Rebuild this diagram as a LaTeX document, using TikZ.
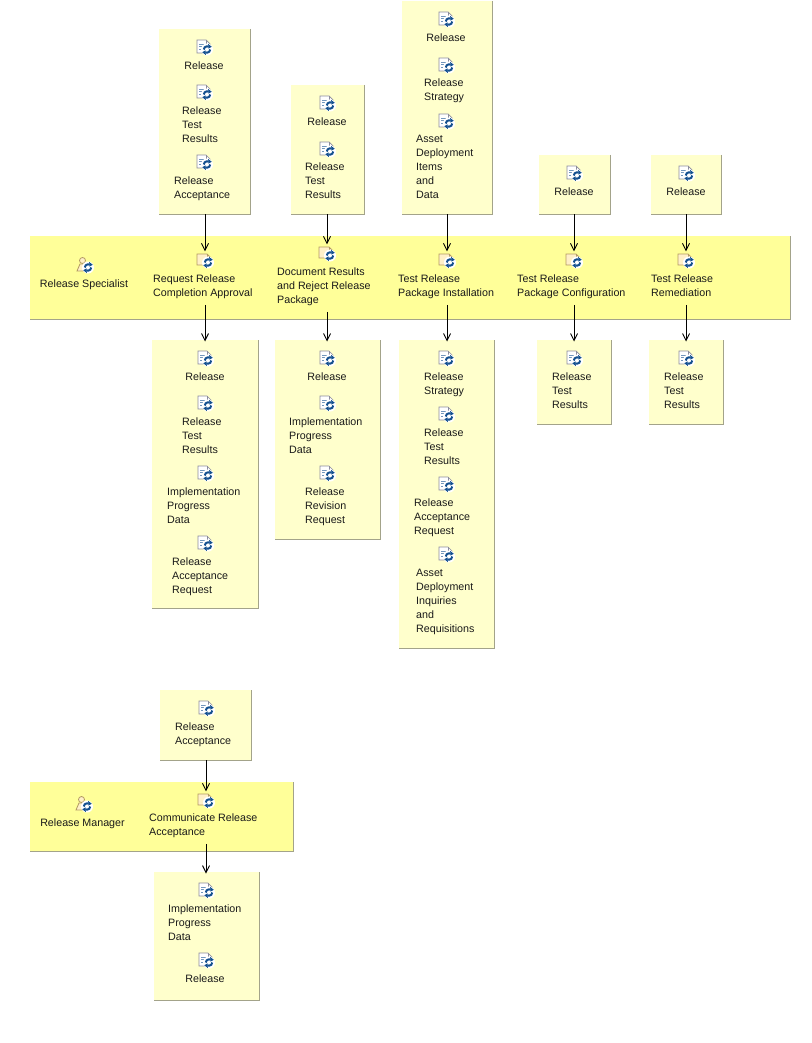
\documentclass[tikz,border=0pt]{standalone}
\usepackage{fontspec}
\setmainfont{Liberation Sans}
\usetikzlibrary{arrows.meta}
\definecolor{artfill}{HTML}{FFFFCC}
\definecolor{bandfill}{HTML}{FFFF99}
\definecolor{edgecol}{HTML}{A3A38A}
\definecolor{inkcol}{HTML}{1A1A1A}
\definecolor{arrowblue}{HTML}{14508F}
\definecolor{pagecol}{HTML}{8C8C9C}
\definecolor{taskpage}{HTML}{FFF0C8}
\definecolor{taskedge}{HTML}{B39A62}
\newcommand{\bluearrows}{%
  \fill[white] (3,-2.5) circle (6pt);
  \draw[arrowblue,line width=2pt] (-0.2,-2.5) arc (180:60:3.2);
  \draw[arrowblue,line width=2pt] (6.2,-2.5) arc (0:-120:3.2);
  \fill[arrowblue] (4.2,3) -- (4.4,-1.6) -- (7.8,0.2) -- cycle;
  \fill[arrowblue] (1.8,-8) -- (1.6,-3.4) -- (-1.8,-5.2) -- cycle;
}
\tikzset{
  x=1pt,y=1pt,
  artbox/.style={fill=artfill,draw=none,inner sep=0,minimum width=#1},
  band/.style={fill=bandfill,draw=none,inner sep=0},
  txt/.style={anchor=north west,inner sep=0,outer ysep=4pt,align=left,text=inkcol,
    font=\fontsize{10.7}{14}\selectfont,
    execute at begin node=\strut,execute at end node=\strut},
  ctxt/.style={txt,anchor=north,align=center},
  rim/.style={draw=edgecol,line width=0.9pt},
  flow/.style={draw=black,line width=0.9pt,shorten >=-1.5pt,-{Straight Barb[length=7pt,width=7pt,line width=0.9pt]}},
  docicon/.style={inner sep=0,minimum width=20pt,minimum height=20pt,path picture={
    \begin{scope}[shift={(path picture bounding box.center)}]
      \filldraw[fill=white,draw=pagecol,line width=0.7pt] (-7,7) -- (2,7) -- (6,3) -- (6,-6) -- (-7,-6) -- cycle;
      \draw[pagecol,line width=0.7pt] (2,7) -- (2,3) -- (6,3);
      \draw[arrowblue!60,line width=0.6pt] (-5,3) -- (0,3) (-5,0.5) -- (0,0.5) (-5,-2) -- (-2,-2);
      \bluearrows
    \end{scope}}},
  taskicon/.style={inner sep=0,minimum width=20pt,minimum height=20pt,path picture={
    \begin{scope}[shift={(path picture bounding box.center)}]
      \filldraw[fill=taskpage,draw=taskedge,line width=0.8pt] (-8,6) -- (2,6) -- (6,2) -- (6,-5) -- (-8,-5) -- cycle;
      \draw[taskedge,line width=0.7pt] (2,6) -- (2,2) -- (6,2);
      \bluearrows
    \end{scope}}},
  roleicon/.style={inner sep=0,minimum width=20pt,minimum height=20pt,path picture={
    \begin{scope}[shift={(path picture bounding box.center)}]
      \filldraw[fill=taskpage,draw=taskedge,line width=0.8pt] (-2.5,4.5) circle (3pt);
      \filldraw[fill=taskpage,draw=taskedge,line width=0.8pt] (-8,-6) -- (-5,1) -- (0,1) -- (2,-6) -- cycle;
      \bluearrows
    \end{scope}}},
}
% \abox{name}{x0}{y0}{x1}{y1}
\newcommand{\abox}[6][artbox=1pt]{%
  \node[#1,anchor=north west,minimum width={#5-#3},minimum height={#6-#4}] (#2) at (#3,-#4) {};
  \draw[rim] (#2.north east) -- (#2.south east) -- (#2.south west);
}
\newcommand{\lbl}[4]{\node[txt] (#1) at (#2,{-(#3-7)}) {#4};}
\newcommand{\clbl}[4]{\node[ctxt] (#1) at (#2,{-(#3-9)}) {#4};}
\begin{document}
\begin{tikzpicture}
\useasboundingbox[fill=white] (0,0) rectangle (811,-1043);
% top artifact boxes
\abox{ta}{159}{29}{250}{214}
\abox{tb}{291}{85}{364}{214}
\abox{tc}{402}{1}{492}{214}
\abox{td}{539}{155}{610}{214}
\abox{te}{651}{155}{721}{214}
% band
\abox[band]{rs}{30}{236}{790}{319}
% bottom boxes
\abox{ba}{152}{340}{258}{608}
\abox{bb}{275}{340}{380}{539}
\abox{bc}{399}{340}{494}{648}
\abox{bd}{537}{340}{611}{424}
\abox{be}{649}{340}{723}{424}
% lower
\abox{la}{160}{690}{251}{760}
\abox[band]{rm}{30}{782}{293}{851}
\abox{lb}{154}{872}{259}{1000}

% top box A
\node[docicon] (ta1) at (204,-47) {}; \clbl{tat1}{204}{65}{Release}
\node[docicon] (ta2) at (204,-92) {}; \lbl{tat2}{182}{110}{Release\\Test\\Results}
\node[docicon] (ta3) at (204,-162) {}; \lbl{tat3}{174}{180}{Release\\Acceptance}
% top box B
\node[docicon] (tb1) at (327,-103) {}; \clbl{tbt1}{327}{121}{Release}
\node[docicon] (tb2) at (327,-149) {}; \lbl{tbt2}{305}{166}{Release\\Test\\Results}
% top box C
\node[docicon] (tc1) at (446,-19) {}; \clbl{tct1}{446}{37}{Release}
\node[docicon] (tc2) at (446,-65) {}; \lbl{tct2}{424}{82}{Release\\Strategy}
\node[docicon] (tc3) at (446,-121) {}; \lbl{tct3}{416}{138}{Asset\\Deployment\\Items\\and\\Data}
% top D, E
\node[docicon] (td1) at (574,-173) {}; \clbl{tdt1}{574}{191}{Release}
\node[docicon] (te1) at (686,-173) {}; \clbl{tet1}{686}{191}{Release}

% role and tasks
\node[roleicon] (rsi) at (85,-265) {}; \clbl{rst}{84}{283}{Release Specialist}
\node[taskicon] (k1) at (205,-260) {}; \lbl{k1t}{153}{278}{Request Release\\Completion Approval}
\node[taskicon] (k2) at (327,-253) {}; \lbl{k2t}{277}{271}{Document Results\\and Reject Release\\Package}
\node[taskicon] (k3) at (447,-260) {}; \lbl{k3t}{398}{278}{Test Release\\Package Installation}
\node[taskicon] (k4) at (574,-260) {}; \lbl{k4t}{517}{278}{Test Release\\Package Configuration}
\node[taskicon] (k5) at (686,-260) {}; \lbl{k5t}{651}{278}{Test Release\\Remediation}

% bottom A
\node[docicon] (ba1) at (205,-358) {}; \clbl{bat1}{205}{376}{Release}
\node[docicon] (ba2) at (205,-403) {}; \lbl{bat2}{182}{421}{Release\\Test\\Results}
\node[docicon] (ba3) at (205,-473) {}; \lbl{bat3}{167}{491}{Implementation\\Progress\\Data}
\node[docicon] (ba4) at (205,-543) {}; \lbl{bat4}{172}{561}{Release\\Acceptance\\Request}
% bottom B
\node[docicon] (bb1) at (327,-358) {}; \clbl{bbt1}{327}{376}{Release}
\node[docicon] (bb2) at (327,-403) {}; \lbl{bbt2}{289}{421}{Implementation\\Progress\\Data}
\node[docicon] (bb3) at (327,-473) {}; \lbl{bbt3}{305}{491}{Release\\Revision\\Request}
% bottom C
\node[docicon] (bc1) at (446,-358) {}; \lbl{bct1}{424}{376}{Release\\Strategy}
\node[docicon] (bc2) at (446,-414) {}; \lbl{bct2}{424}{432}{Release\\Test\\Results}
\node[docicon] (bc3) at (446,-484) {}; \lbl{bct3}{414}{502}{Release\\Acceptance\\Request}
\node[docicon] (bc4) at (446,-554) {}; \lbl{bct4}{416}{572}{Asset\\Deployment\\Inquiries\\and\\Requisitions}
% bottom D, E
\node[docicon] (bd1) at (574,-358) {}; \lbl{bdt1}{552}{376}{Release\\Test\\Results}
\node[docicon] (be1) at (686,-358) {}; \lbl{bet1}{664}{376}{Release\\Test\\Results}

% lower group
\node[docicon] (la1) at (206,-708) {}; \lbl{lat1}{175}{726}{Release\\Acceptance}
\node[roleicon] (rmi) at (84,-804) {}; \clbl{rmt}{82.5}{822}{Release Manager}
\node[taskicon] (k6) at (206,-800) {}; \lbl{k6t}{149}{817}{Communicate Release\\Acceptance}
\node[docicon] (lb1) at (206,-890) {}; \lbl{lbt1}{168}{908}{Implementation\\Progress\\Data}
\node[docicon] (lb2) at (206,-960) {}; \clbl{lbt2}{205}{978}{Release}

% connectors
\foreach \src/\dst in {ta/k1,tb/k2,tc/k3,td/k4,te/k5,la/k6}
  \draw[flow] (\src.south -| \dst.north) -- (\dst.north);
\foreach \lab/\ico/\dst in {k1t/k1/ba,k2t/k2/bb,k3t/k3/bc,k4t/k4/bd,k5t/k5/be,k6t/k6/lb}
  \draw[flow] (\lab.south -| \ico.south) -- (\dst.north -| \ico.south);
\end{tikzpicture}
\end{document}
